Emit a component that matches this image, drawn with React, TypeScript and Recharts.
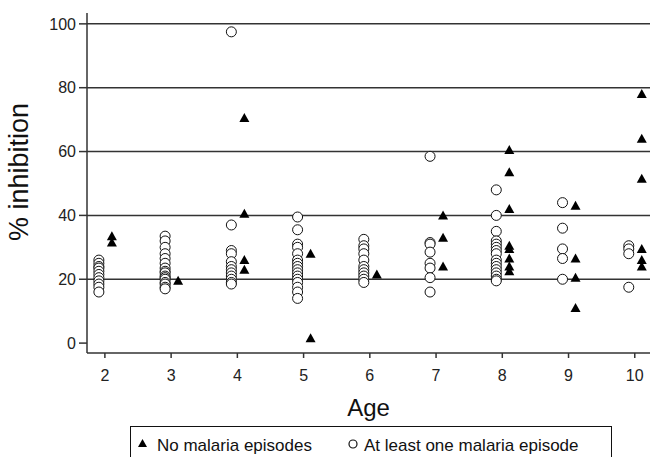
import React from "react";
import {
  ScatterChart,
  Scatter,
  XAxis,
  YAxis,
  ReferenceLine,
  Label,
} from "recharts";

// ages on the x axis
const ages = [2, 3, 4, 5, 6, 7, 8, 9, 10];
const yTicks = [0, 20, 40, 60, 80, 100];
const gridLines = [20, 40, 60, 80, 100];

// % inhibition, children with no malaria episodes (per age)
const noEpisodes: number[][] = [
  [33.5, 31.5],
  [19.5],
  [70.5, 40.5, 26, 23],
  [28, 1.5],
  [21.5],
  [40, 33, 24],
  [60.5, 53.5, 42, 30.5, 29.5, 26.5, 24, 22.5],
  [43, 26.5, 20.5, 11],
  [78, 64, 51.5, 29.5, 26, 24],
];

// % inhibition, children with at least one malaria episode (per age)
const atLeastOne: number[][] = [
  [26, 25, 24, 23.5, 22.5, 21.5, 20.5, 19.5, 18.5, 17.5, 16],
  [33.5, 32, 30, 28, 26.5, 25, 23.5, 22.5, 22, 21, 20.5, 20, 19, 18.5, 17.5, 17],
  [97.5, 37, 29, 28, 25.5, 24, 23, 22, 21, 20, 19, 18.5],
  [39.5, 35.5, 31, 30, 28, 26, 25, 24, 23, 22, 21, 20, 19, 17.5, 16, 14],
  [32.5, 30.5, 29.5, 28, 26, 24, 23, 22, 21, 20, 19],
  [58.5, 31.5, 31, 28.5, 25, 23.5, 20.5, 16],
  [48, 40, 35, 32, 31, 30, 29, 28, 26, 25, 24, 23, 22, 21, 20, 19.5],
  [44, 36, 29.5, 26.5, 20],
  [30.5, 29.5, 28, 17.5],
];

const toPoints = (groups: number[][]) =>
  groups.flatMap((vals, i) => vals.map((v) => ({ x: ages[i], y: v })));

const noData = toPoints(noEpisodes);
const oneData = toPoints(atLeastOne);

const FONT = "'Liberation Sans', Arial, sans-serif";

// filled triangle, dodged to the right of the age tick
const Triangle = (props: any) => {
  const { cx, cy } = props;
  if (cx == null || cy == null) return null;
  const x = cx + 7;
  return (
    <polygon
      points={`${x - 5},${cy + 4} ${x + 5},${cy + 4} ${x},${cy - 5}`}
      fill="#000"
    />
  );
};

// open circle, dodged to the left of the age tick
const OpenCircle = (props: any) => {
  const { cx, cy } = props;
  if (cx == null || cy == null) return null;
  return <circle cx={cx - 6} cy={cy} r={5} fill="#fff" stroke="#111" strokeWidth={1} />;
};

// rotated y-axis title
const YTitle = () => (
  <text
    x={28}
    y={172}
    transform="rotate(-90, 28, 172)"
    textAnchor="middle"
    fontSize={27}
    fill="#111"
    fontFamily={FONT}
  >
    % inhibition
  </text>
);

export default function App() {
  return (
    <div style={{ position: "absolute", left: 0, top: 0, width: 650, height: 457, background: "#fff", overflow: "hidden", fontFamily: FONT }}>
      <ScatterChart
        width={650}
        height={457}
        margin={{ top: 13, right: 0, bottom: 74, left: 0 }}
      >
        {gridLines.map((g) => (
          <ReferenceLine key={g} y={g} stroke="#333" strokeWidth={1.5} />
        ))}
        <XAxis
          type="number"
          dataKey="x"
          domain={[1.73, 10.23]}
          ticks={ages}
          allowDataOverflow
          height={30}
          tickSize={5}
          tickMargin={12}
          stroke="#333"
          strokeWidth={1.5}
          tick={{ fontSize: 16, fill: "#222", fontFamily: FONT }}
        >
          <Label value="Age" position="insideBottom" offset={-33} fill="#111" fontSize={24} fontFamily={FONT} />
        </XAxis>
        <YAxis
          type="number"
          dataKey="y"
          domain={[-3.1, 103.4]}
          ticks={yTicks}
          allowDataOverflow
          width={87}
          tickSize={8}
          tickMargin={3}
          stroke="#333"
          strokeWidth={1.5}
          tick={{ fontSize: 16, fill: "#222", fontFamily: FONT }}
        >
          <Label content={<YTitle />} />
        </YAxis>
        <Scatter data={oneData} shape={<OpenCircle />} isAnimationActive={false} />
        <Scatter data={noData} shape={<Triangle />} isAnimationActive={false} />
      </ScatterChart>
      <div
        style={{
          position: "absolute",
          left: 130,
          top: 426,
          width: 482,
          height: 40,
          border: "1.5px solid #111",
          boxSizing: "border-box",
        }}
      >
        <svg width={482} height={40} style={{ position: "absolute", left: 0, top: 0 }}>
          <polygon points="7,20 16,20 11.5,12" fill="#000" />
          <text x={26} y={24} fontSize={17} fill="#111" fontFamily={FONT}>No malaria episodes</text>
          <circle cx={222} cy={17} r={4} fill="#fff" stroke="#111" strokeWidth={1.2} />
          <text x={233} y={24} fontSize={17} fill="#111" fontFamily={FONT}>At least one malaria episode</text>
        </svg>
      </div>
    </div>
  );
}
